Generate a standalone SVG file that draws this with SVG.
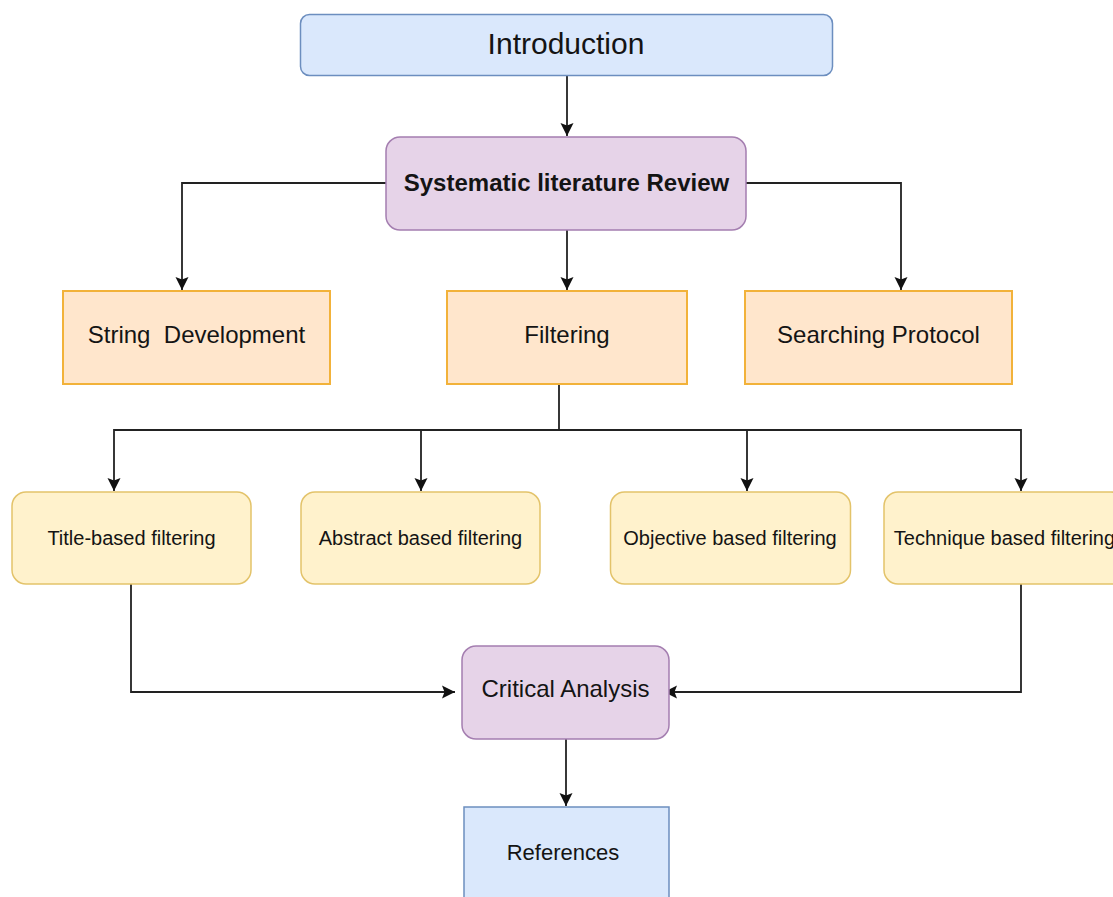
<svg xmlns="http://www.w3.org/2000/svg" width="1113" height="897" viewBox="0 0 1113 897">
<style>
  text { font-family: "Liberation Sans", Arial, sans-serif; fill: #141414; text-anchor: middle; white-space: pre; }
  .blue { fill: #dae8fc; stroke: #6c8ebf; stroke-width: 1.5; }
  .purple { fill: #e6d3e8; stroke: #a47eb0; stroke-width: 1.5; }
  .orange { fill: #ffe6cc; stroke: #f2b23a; stroke-width: 2; }
  .yellow { fill: #fff2cc; stroke: #e3c36a; stroke-width: 1.5; }
  .conn { fill: none; stroke: #222; stroke-width: 1.8; marker-end: url(#arrow); }
</style>
<defs>
  <marker id="arrow" markerUnits="userSpaceOnUse" viewBox="0 0 14 14" markerWidth="14" markerHeight="14" refX="13" refY="7" orient="auto">
    <path d="M0,0.5 L13,7 L0,13.5 L2.5,7 Z" fill="#111"/>
  </marker>
</defs>
<rect width="1113" height="897" fill="#ffffff"/>

<g id="connectors">
  <path class="conn" d="M567,75 L567,136"/>
  <path class="conn" d="M386,183 L182,183 L182,290"/>
  <path class="conn" d="M567,230 L567,290"/>
  <path class="conn" d="M746,183 L901,183 L901,290"/>
  <path class="conn" d="M559,384 L559,430 L114,430 L114,491"/>
  <path class="conn" d="M559,430 L421,430 L421,491"/>
  <path class="conn" d="M559,430 L747,430 L747,491"/>
  <path class="conn" d="M747,430 L1021,430 L1021,491"/>
  <path class="conn" d="M131,584 L131,692 L455,692"/>
  <path class="conn" d="M1021,584 L1021,692 L664,692"/>
  <path class="conn" d="M566,739 L566,806"/>
</g>

<g id="introduction">
  <rect class="blue" x="300.5" y="14.5" width="532" height="61" rx="9"/>
  <text x="566" y="54" font-size="30">Introduction</text>
</g>

<g id="slr">
  <rect class="purple" x="386" y="137" width="360" height="93" rx="14"/>
  <text x="566.5" y="190.5" font-size="24" font-weight="bold">Systematic literature Review</text>
</g>

<g id="string-development">
  <rect class="orange" x="63" y="291" width="267" height="93"/>
  <text x="196.5" y="343" font-size="24">String  Development</text>
</g>

<g id="filtering">
  <rect class="orange" x="447" y="291" width="240" height="93"/>
  <text x="567" y="343" font-size="24">Filtering</text>
</g>

<g id="searching-protocol">
  <rect class="orange" x="745" y="291" width="267" height="93"/>
  <text x="878.5" y="343" font-size="24">Searching Protocol</text>
</g>

<g id="title-filtering">
  <rect class="yellow" x="12" y="492" width="239" height="92" rx="14"/>
  <text x="131.5" y="545" font-size="20">Title-based filtering</text>
</g>

<g id="abstract-filtering">
  <rect class="yellow" x="301" y="492" width="239" height="92" rx="14"/>
  <text x="420.5" y="545" font-size="20">Abstract based filtering</text>
</g>

<g id="objective-filtering">
  <rect class="yellow" x="610.5" y="492" width="240" height="92" rx="14"/>
  <text x="730" y="545" font-size="20">Objective based filtering</text>
</g>

<g id="technique-filtering">
  <rect class="yellow" x="884" y="492" width="241" height="92" rx="14"/>
  <text x="1004.5" y="545" font-size="20">Technique based filtering</text>
</g>

<g id="critical-analysis">
  <rect class="purple" x="462" y="646" width="207" height="93" rx="14"/>
  <text x="565.5" y="697" font-size="24">Critical Analysis</text>
</g>

<g id="references">
  <rect class="blue" x="464" y="807" width="205" height="100"/>
  <text x="563" y="860" font-size="22">References</text>
</g>
</svg>
